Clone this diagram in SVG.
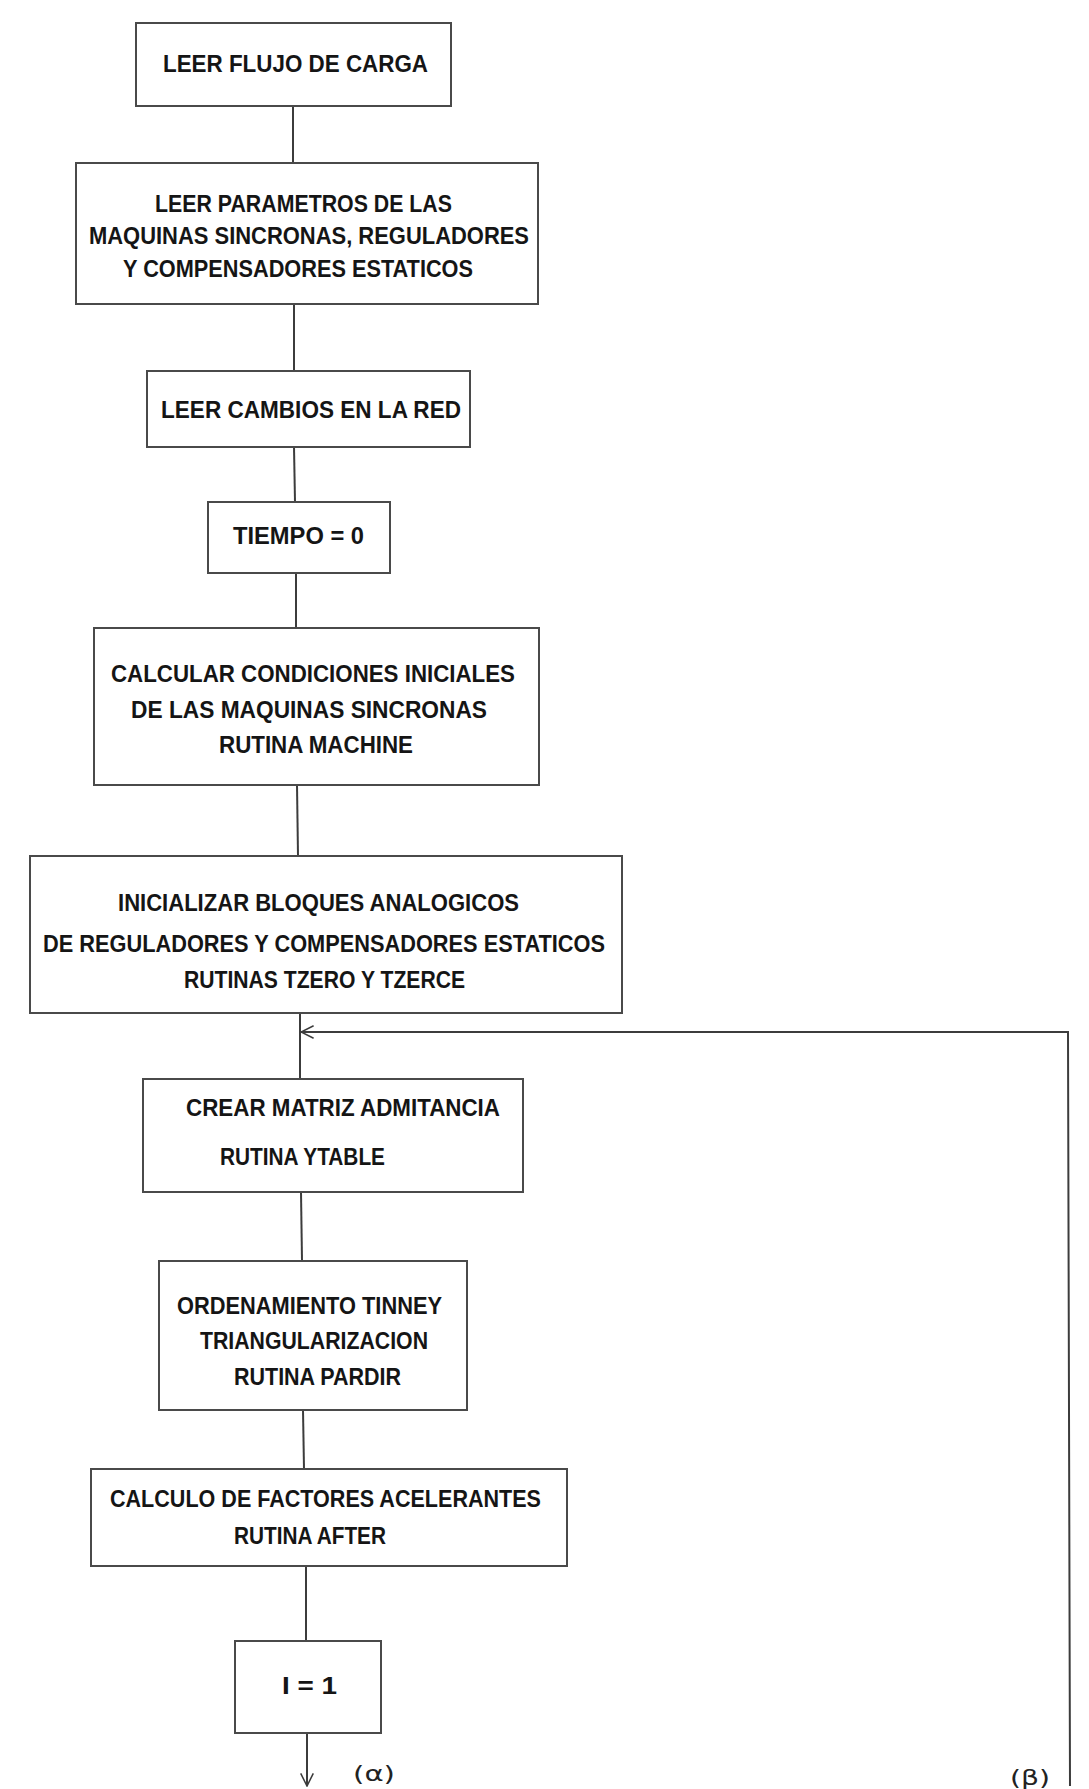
<svg xmlns="http://www.w3.org/2000/svg" width="1089" height="1789" viewBox="0 0 1089 1789">
<defs>
<style>
.box{fill:#fff;stroke:#4a4a4a;stroke-width:2}
.t{font-family:"Liberation Sans","DejaVu Sans",sans-serif;font-size:23px;font-weight:bold;fill:#151515}
.lbl{font-family:"DejaVu Sans","Liberation Sans",sans-serif;font-size:22px;fill:#222}
.c{fill:none;stroke:#3c3c3c;stroke-width:2}
</style>
<marker id="open" viewBox="0 0 20 20" refX="19" refY="10" markerWidth="14" markerHeight="14" markerUnits="userSpaceOnUse" orient="auto">
<path d="M1,1 L19,10 L1,19" fill="none" stroke="#3c3c3c" stroke-width="2.2"/>
</marker>
</defs>
<rect width="1089" height="1789" fill="#fff"/>
<g id="connectors">
<line class="c" x1="293" y1="106" x2="293" y2="163"/>
<line class="c" x1="294" y1="304" x2="294" y2="371"/>
<line class="c" x1="294" y1="447" x2="295" y2="502"/>
<line class="c" x1="296" y1="573" x2="296" y2="628"/>
<line class="c" x1="297" y1="785" x2="298" y2="856"/>
<line class="c" x1="300" y1="1013" x2="300" y2="1079"/>
<polyline class="c" points="1070,1786 1068,1032 301,1032" marker-end="url(#open)"/>
<line class="c" x1="301" y1="1192" x2="302" y2="1261"/>
<line class="c" x1="303" y1="1410" x2="304" y2="1469"/>
<line class="c" x1="306" y1="1566" x2="306" y2="1641"/>
<line class="c" x1="307" y1="1733" x2="307" y2="1786" marker-end="url(#open)"/>
</g>
<g id="n1">
<rect class="box" x="136" y="23" width="315" height="83"/>
<text class="t" x="163" y="72" textLength="265" lengthAdjust="spacingAndGlyphs">LEER FLUJO DE CARGA</text>
</g>
<g id="n2">
<rect class="box" x="76" y="163" width="462" height="141"/>
<text class="t" x="155" y="212" textLength="297" lengthAdjust="spacingAndGlyphs">LEER PARAMETROS DE LAS</text>
<text class="t" x="89" y="244" textLength="440" lengthAdjust="spacingAndGlyphs">MAQUINAS SINCRONAS, REGULADORES</text>
<text class="t" x="123" y="277" textLength="350" lengthAdjust="spacingAndGlyphs">Y COMPENSADORES ESTATICOS</text>
</g>
<g id="n3">
<rect class="box" x="147" y="371" width="323" height="76"/>
<text class="t" x="161" y="418" textLength="300" lengthAdjust="spacingAndGlyphs">LEER CAMBIOS EN LA RED</text>
</g>
<g id="n4">
<rect class="box" x="208" y="502" width="182" height="71"/>
<text class="t" x="233" y="544" textLength="131" lengthAdjust="spacingAndGlyphs">TIEMPO = 0</text>
</g>
<g id="n5">
<rect class="box" x="94" y="628" width="445" height="157"/>
<text class="t" x="111" y="682" textLength="404" lengthAdjust="spacingAndGlyphs">CALCULAR CONDICIONES INICIALES</text>
<text class="t" x="131" y="718" textLength="356" lengthAdjust="spacingAndGlyphs">DE LAS MAQUINAS SINCRONAS</text>
<text class="t" x="219" y="753" textLength="194" lengthAdjust="spacingAndGlyphs">RUTINA MACHINE</text>
</g>
<g id="n6">
<rect class="box" x="30" y="856" width="592" height="157"/>
<text class="t" x="118" y="911" textLength="401" lengthAdjust="spacingAndGlyphs">INICIALIZAR BLOQUES ANALOGICOS</text>
<text class="t" x="43" y="952" textLength="562" lengthAdjust="spacingAndGlyphs">DE REGULADORES Y COMPENSADORES ESTATICOS</text>
<text class="t" x="184" y="988" textLength="281" lengthAdjust="spacingAndGlyphs">RUTINAS TZERO Y TZERCE</text>
</g>
<g id="n7">
<rect class="box" x="143" y="1079" width="380" height="113"/>
<text class="t" x="186" y="1116" textLength="314" lengthAdjust="spacingAndGlyphs">CREAR MATRIZ ADMITANCIA</text>
<text class="t" x="220" y="1165" textLength="165" lengthAdjust="spacingAndGlyphs">RUTINA YTABLE</text>
</g>
<g id="n8">
<rect class="box" x="159" y="1261" width="308" height="149"/>
<text class="t" x="177" y="1314" textLength="265" lengthAdjust="spacingAndGlyphs">ORDENAMIENTO TINNEY</text>
<text class="t" x="200" y="1349" textLength="228" lengthAdjust="spacingAndGlyphs">TRIANGULARIZACION</text>
<text class="t" x="234" y="1385" textLength="167" lengthAdjust="spacingAndGlyphs">RUTINA PARDIR</text>
</g>
<g id="n9">
<rect class="box" x="91" y="1469" width="476" height="97"/>
<text class="t" x="110" y="1507" textLength="431" lengthAdjust="spacingAndGlyphs">CALCULO DE FACTORES ACELERANTES</text>
<text class="t" x="234" y="1544" textLength="152" lengthAdjust="spacingAndGlyphs">RUTINA AFTER</text>
</g>
<g id="n10">
<rect class="box" x="235" y="1641" width="146" height="92"/>
<text class="t" x="282" y="1694" textLength="55" lengthAdjust="spacingAndGlyphs">I = 1</text>
</g>
<g id="labels">
<text class="lbl" x="353" y="1781" textLength="42" lengthAdjust="spacingAndGlyphs">(α)</text>
<text class="lbl" x="1010" y="1785" textLength="40" lengthAdjust="spacingAndGlyphs">(β)</text>
</g>
</svg>
